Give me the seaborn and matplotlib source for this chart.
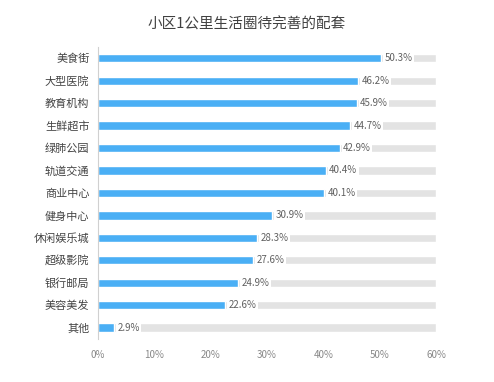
import matplotlib
matplotlib.use('Agg')
import matplotlib.pyplot as plt
import seaborn as sns
import pandas as pd

# 数据
categories = ['美食街', '大型医院', '教育机构', '生鲜超市', '绿肺公园', '轨道交通', '商业中心',
              '健身中心', '休闲娱乐城', '超级影院', '银行邮局', '美容美发', '其他']
values = [50.3, 46.2, 45.9, 44.7, 42.9, 40.4, 40.1, 30.9, 28.3, 27.6, 24.9, 22.6, 2.9]
x_max = 60
x_ticks = [0, 10, 20, 30, 40, 50, 60]

sns.set_style('white')
plt.rcParams['font.family'] = ['Noto Sans CJK SC', 'DejaVu Sans']

df = pd.DataFrame({'cat': categories, 'val': values, 'bg': [x_max] * len(values)})

fig = plt.figure(figsize=(4.94, 3.82), dpi=100)
ax = fig.add_axes([0.198, 0.113, 0.685, 0.764])

sns.barplot(data=df, y='cat', x='bg', color='#e3e3e3', width=0.37, ax=ax, saturation=1)
sns.barplot(data=df, y='cat', x='val', color='#4aaff5', width=0.37, ax=ax, saturation=1)

for i, v in enumerate(values):
    ax.text(v + 0.6, i, f'{v:.1f}%', va='center', ha='left', fontsize=7, color='#606060',
            bbox=dict(boxstyle='square,pad=0.15', fc='white', ec='none'))

ax.set_xlim(0, x_max)
ax.set_xticks(x_ticks)
ax.set_xticklabels([f'{t}%' for t in x_ticks], fontsize=7, color='#888888')
ax.tick_params(axis='y', labelsize=8, labelcolor='#444444', length=0, pad=6)
ax.tick_params(axis='x', length=0, pad=8)
ax.set_xlabel('')
ax.set_ylabel('')
for s in ['top', 'right', 'bottom']:
    ax.spines[s].set_visible(False)
ax.spines['left'].set_color('#d0d0d0')
ax.spines['left'].set_linewidth(0.8)

fig.suptitle('小区1公里生活圈待完善的配套', y=0.955, fontsize=10.5, color='#404040')

fig.savefig('out.png', dpi=100)
